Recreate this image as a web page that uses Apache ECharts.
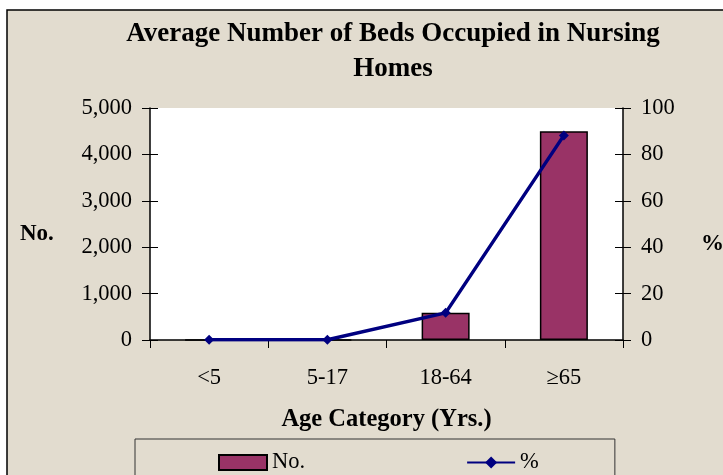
<!DOCTYPE html>
<html>
<head>
<meta charset="utf-8">
<script src="https://cdn.jsdelivr.net/npm/echarts@6/dist/echarts.min.js"></script>
<style>
  html, body { margin: 0; padding: 0; background: #fff; }
  #chart { width: 723px; height: 475px; }
</style>
</head>
<body>
<div id="chart"></div>
<script>
// data
var categories = ['<5', '5-17', '18-64', '\u226565'];
var bedsNo = [0, 0, 585, 4500];
var bedsPct = [0.1, 0.1, 11.7, 88.2];
var leftTicks = [0, 1000, 2000, 3000, 4000, 5000];
var rightTicks = [0, 20, 40, 60, 80, 100];

var serif = '"Liberation Serif", "DejaVu Serif", serif';

var myChart = echarts.init(document.getElementById('chart'));

// inner half of the crossing ticks (no labels, no series)
function innerTicks (pos, ticks) {
  return {
    type: 'value',
    position: pos,
    min: ticks[0],
    max: ticks[ticks.length - 1],
    interval: ticks[1] - ticks[0],
    axisLine: { show: false },
    axisTick: { show: true, inside: true, length: 8, lineStyle: { color: '#000' } },
    axisLabel: { show: false },
    splitLine: { show: false }
  }
}

var option = {
  animation: false,
  backgroundColor: '#fff',
  textStyle: { fontFamily: serif, color: '#000' },
  graphic: [{
    type: 'rect',
    z: -10,
    shape: { x: 7, y: 10, width: 740, height: 480 },
    style: { fill: '#e2dccf', stroke: '#000', lineWidth: 1.5 }
  }, {
    // left axis title
    type: 'text',
    left: 20,
    top: 223,
    style: { text: 'No.', fontFamily: serif, fontWeight: 'bold', fontSize: 23, fill: '#000' }
  }, {
    // right axis title
    type: 'text',
    left: 701,
    top: 233,
    style: { text: '%', fontFamily: serif, fontWeight: 'bold', fontSize: 23, fill: '#000' }
  }],
  title: {
    text: 'Average Number of Beds Occupied in Nursing\nHomes',
    left: 388,
    top: 12,
    textAlign: 'center',
    textStyle: {
      fontFamily: serif,
      fontWeight: 'bold',
      fontSize: 27,
      lineHeight: 35,
      color: '#000'
    }
  },
  legend: {
    left: 135,
    top: 439,
    padding: [12, 76, 30, 83],
    borderColor: '#333',
    borderWidth: 1,
    itemGap: 161,
    itemWidth: 48,
    itemHeight: 15,
    textStyle: { fontFamily: serif, fontSize: 22.5, color: '#000' },
    data: [
      { name: 'No.', icon: 'rect' },
      { name: '%' }
    ]
  },
  grid: {
    left: 150,
    right: 100,
    top: 108,
    bottom: 135,
    outerBoundsMode: 'none',
    containLabel: false,
    show: true,
    backgroundColor: '#fff',
    borderWidth: 0
  },
  xAxis: {
    type: 'category',
    data: categories,
    name: 'Age Category (Yrs.)',
    nameLocation: 'middle',
    nameGap: 67,
    nameTextStyle: { fontFamily: serif, fontWeight: 'bold', fontSize: 24.5, color: '#000' },
    axisLine: { lineStyle: { color: '#000', width: 1.5 } },
    axisTick: { show: true, length: 8, lineStyle: { color: '#000' } },
    axisLabel: { margin: 27, fontFamily: serif, fontSize: 22.5, color: '#000' }
  },
  yAxis: [{
    type: 'value',
    min: leftTicks[0],
    max: leftTicks[leftTicks.length - 1],
    interval: leftTicks[1] - leftTicks[0],
    axisLine: { show: true, lineStyle: { color: '#000', width: 1.5 } },
    axisTick: { show: true, length: 8, lineStyle: { color: '#000' } },
    axisLabel: {
      margin: 18,
      fontFamily: serif,
      fontSize: 22.5,
      color: '#000',
      formatter: function (v) { return v.toLocaleString('en-US'); }
    },
    splitLine: { show: false }
  }, {
    type: 'value',
    min: rightTicks[0],
    max: rightTicks[rightTicks.length - 1],
    interval: rightTicks[1] - rightTicks[0],
    position: 'right',
    axisLine: { show: true, lineStyle: { color: '#000', width: 1.5 } },
    axisTick: { show: true, length: 8, lineStyle: { color: '#000' } },
    axisLabel: { margin: 18, fontFamily: serif, fontSize: 22.5, color: '#000' },
    splitLine: { show: false }
  }, innerTicks('left', leftTicks), innerTicks('right', rightTicks)],
  series: [{
    name: 'No.',
    type: 'bar',
    data: bedsNo,
    barWidth: 48,
    itemStyle: { color: '#993366', borderColor: '#000', borderWidth: 1.5 }
  }, {
    name: '%',
    type: 'line',
    yAxisIndex: 1,
    data: bedsPct,
    symbol: 'diamond',
    symbolSize: 10,
    lineStyle: { color: '#000080', width: 3.5 },
    itemStyle: { color: '#000080' }
  }]
};

myChart.setOption(option);
</script>
</body>
</html>
